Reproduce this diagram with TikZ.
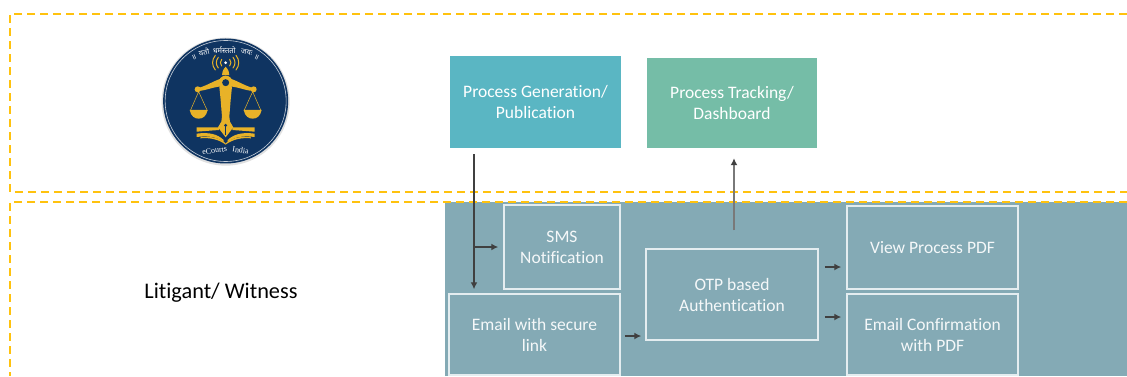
\documentclass[tikz,border=0pt]{standalone}
\usepackage{fontspec}
\setmainfont[Ligatures=NoCommon]{Carlito}
\newfontfamily\devafont[Script=Devanagari]{Noto Sans}
\newfontfamily\logofont{Liberation Serif}
\usetikzlibrary{arrows.meta,positioning,calc}
\definecolor{dashgold}{HTML}{FFC20E}
\definecolor{procteal}{HTML}{5AB6C3}
\definecolor{trackgreen}{HTML}{75BDA7}
\definecolor{panelgrey}{HTML}{84AAB5}
\definecolor{boxline}{HTML}{E4EDF0}
\definecolor{flowgrey}{HTML}{404040}
\definecolor{logonavy}{HTML}{0F3461}
\definecolor{logogold}{HTML}{E8B228}
\tikzset{
    zonedash/.style={draw=dashgold, line width=2pt, dash pattern=on 8pt off 5pt},
    topbox/.style={shape=rectangle, text=white, align=center, inner sep=0pt,
        font=\fontsize{17.5}{21}\selectfont},
    panelbox/.style={topbox, draw=boxline, line width=1.5pt, text=white!92!panelgrey},
    flowline/.style={draw=flowgrey, line width=1.5pt, -{Latex[length=7pt,width=7pt,color=flowgrey]}},
    logoline/.style={draw=logogold, line cap=round},
    mottotext/.style={text=white, inner sep=0pt, font=\devafont\fontsize{7.5}{7.5}\selectfont},
    nametext/.style={text=white, inner sep=0pt, font=\logofont\fontsize{8}{8}\selectfont},
}
\begin{document}
\begin{tikzpicture}[x=1pt,y=-1pt]
    \useasboundingbox (0,0) rectangle (1127,376);
    \fill[white] (0,0) rectangle (1127,376);
    \fill[panelgrey] (445,202) rectangle (1127,376);
    \draw[zonedash] (1127,14) -- (10,14) -- (10,192) -- (1127,192);
    \draw[zonedash] (1127,202) -- (10,202) -- (10,376);

    % logo, in the coordinates of a 3x crop
    \begin{scope}[shift={(130,20)},x=0.3333pt,y=-0.3333pt]
        \fill[black!12] (287,245) circle[radius=64pt];
        \fill[logonavy] (287,243) circle[radius=62.5pt];
        \draw[white!75!logonavy, line width=0.6pt] (287,243) circle[radius=60.5pt];
        \foreach \s in {-1,1} {
            \begin{scope}[shift={(287,0)},xscale=\s]
                % beam, scale and pan
                \fill[logogold] (0,172) .. controls (-30,178) and (-60,200) .. (-84,204)
                    -- (-84,213) .. controls (-55,212) and (-30,196) .. (0,200) -- cycle;
                \fill[logogold] (-84,208) circle[radius=3pt];
                \draw[logogold, line width=0.5pt] (-106,272) -- (-81,215) -- (-55,272);
                \fill[logogold] (-108,270) -- (-54,270) .. controls (-58,290) and (-70,296) .. (-81,296)
                    .. controls (-92,296) and (-104,290) .. (-108,270) -- cycle;
                % signal waves
                \draw[logoline, line width=1pt] (-12,118) .. controls (-17,124) and (-17,132) .. (-12,138);
                \draw[logoline, line width=1pt] (-22,112) .. controls (-30,122) and (-30,134) .. (-22,144);
                \draw[logoline, line width=1pt] (-31,106) .. controls (-42,120) and (-42,136) .. (-31,150);
                % book
                \fill[logogold] (-87,322) -- (-20,322) -- (-20,330) -- (-87,335) -- cycle;
                \fill[logogold] (-87,341) .. controls (-50,336) and (-25,342) .. (-6,360)
                    -- (-6,366) .. controls (-25,352) and (-50,346) .. (-87,351) -- cycle;
                \fill[logogold] (-76,355) .. controls (-50,352) and (-20,358) .. (0,374)
                    -- (0,370) .. controls (-20,352) and (-50,348) .. (-76,352) -- cycle;
            \end{scope}
        }
        \fill[white] (287,128) circle[radius=1.5pt];
        % finial and pen
        \fill[logogold] (287,140) .. controls (278,150) and (276,158) .. (276,165) -- (298,165)
            .. controls (298,158) and (296,150) .. (287,140) -- cycle;
        \fill[logogold] (287,188) circle[radius=7pt];
        \fill[logonavy] (287,188) circle[radius=3.5pt];
        \fill[logogold] (268,200) -- (306,200) -- (302,240) -- (298,290) -- (300,305)
            -- (310,322) -- (287,352) -- (264,322) -- (274,305) -- (276,290) -- (272,240) -- cycle;
        \fill[logonavy] (285.5,318) rectangle (288.5,345);
        \fill[logonavy] (287,316) circle[radius=1.6pt];
        % motto and name, word by word on the arc
        \node[mottotext, rotate=24] (mottoa) at (192,112) {॥};
        \node[mottotext, rotate=15] (mottob) at (222,97) {यतो};
        \node[mottotext] (mottoc) at (283,90) {धर्मस्ततो};
        \node[mottotext, rotate=-11] (mottod) at (350,96) {जयः};
        \node[mottotext, rotate=-24] (mottoe) at (380,112) {॥};
        \node[nametext, rotate=7] (namea) at (254,391) {eCourts};
        \node[nametext, rotate=-8] (nameb) at (332,391) {India};
    \end{scope}

    \node[inner sep=0pt, font=\fontsize{22.3}{24}\selectfont] (litigant) at (221,293) {Litigant/ Witness};

    \node[topbox, fill=procteal, minimum width=171pt, minimum height=92pt] (procbox) at (535.5,102) {Process Generation/\\Publication};
    \node[topbox, fill=trackgreen, minimum width=170pt, minimum height=90pt] (trackbox) at (732,103) {Process Tracking/\\Dashboard};
    \node[panelbox, minimum width=116pt, minimum height=84pt] (smsbox) at (562,247) {SMS\\Notification};
    \node[panelbox, minimum width=171pt, minimum height=81pt] (emailbox) at (534.5,334.5) {Email with secure\\link};
    \node[panelbox, minimum width=172pt, minimum height=91pt] (otpbox) at (732,294.5) {OTP based\\Authentication};
    \node[panelbox, minimum width=171pt, minimum height=83pt] (viewbox) at (932.5,247.5) {View Process PDF};
    \node[panelbox, minimum width=171pt, minimum height=81pt] (confirmbox) at (932.5,334.5) {Email Confirmation\\with PDF};

    \coordinate (smsjoin) at (474,247);
    \coordinate (emaillevel) at (0,336);
    \coordinate (viewlevel) at (0,267);
    \coordinate (confirmlevel) at (0,317);
    \coordinate (trackline) at (734,0);

    \draw[flowline, shorten <=6pt, shorten >=4pt] (procbox.south -| smsjoin) -- (emailbox.north -| smsjoin);
    \draw[flowline, shorten >=5pt] (smsjoin) -- (smsbox.west |- smsjoin);
    \draw[flowline, shorten <=4pt, shorten >=4pt] (emailbox.east |- emaillevel) -- (otpbox.west |- emaillevel);
    \draw[flowline, shorten <=6pt, shorten >=5pt] (otpbox.east |- viewlevel) -- (viewbox.west |- viewlevel);
    \draw[flowline, shorten <=6pt, shorten >=5pt] (otpbox.east |- confirmlevel) -- (confirmbox.west |- confirmlevel);
    \draw[flowline, draw=flowgrey!70, line width=2pt, shorten <=18pt, shorten >=10pt] (otpbox.north -| trackline) -- (trackbox.south -| trackline);
\end{tikzpicture}
\end{document}
